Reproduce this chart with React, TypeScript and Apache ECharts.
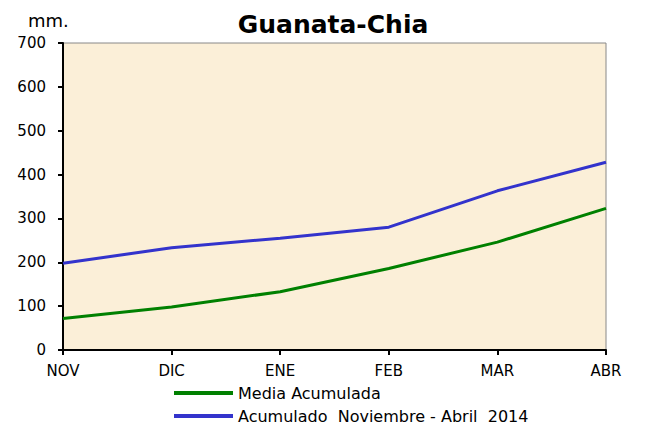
import React, { useEffect, useRef } from "react";
import * as echarts from "echarts";

const categories = ["NOV", "DIC", "ENE", "FEB", "MAR", "ABR"];
const mediaAcumulada = [72, 98, 133, 186, 246, 323];
const acumulado2014 = [198, 233, 255, 280, 363, 428];
const seriesNames = ["Media Acumulada", "Acumulado  Noviembre - Abril  2014"];

export default function App() {
  const ref = useRef<HTMLDivElement>(null);
  useEffect(() => {
    const chart = echarts.init(ref.current!, null, { renderer: "svg" });
    const font = "'DejaVu Sans', Arial, sans-serif";
    chart.setOption({
      animation: false,
      backgroundColor: "#ffffff",
      title: {
        text: "Guanata-Chia",
        left: 328,
        textAlign: "center",
        top: 7,
        textStyle: { fontFamily: font, fontSize: 25, fontWeight: "bold", color: "#000" },
      },
      graphic: [
        {
          type: "text",
          x: 28,
          y: 20,
          style: { text: "mm.", font: `18px ${font}`, fill: "#000", verticalAlign: "middle" },
        },
      ],
      legend: {
        orient: "vertical",
        left: 174,
        top: 385,
        padding: 0,
        height: 42,
        itemGap: 7,
        itemWidth: 59,
        itemHeight: 4,
        icon: "rect",
        textStyle: { fontFamily: font, fontSize: 16, color: "#000" },
        data: seriesNames,
      },
      grid: {
        left: 63,
        right: 42,
        top: 43,
        bottom: 77,
        show: true,
        backgroundColor: "#fbefd8",
        borderColor: "#888888",
        borderWidth: 1,
      },
      xAxis: {
        type: "category",
        data: categories,
        boundaryGap: false,
        axisLine: { lineStyle: { color: "#000", width: 2 } },
        axisTick: { show: true, length: 5, lineStyle: { color: "#000", width: 2 } },
        axisLabel: { fontFamily: font, fontSize: 15, color: "#000", margin: 13 },
        splitLine: { show: false },
      },
      yAxis: {
        type: "value",
        min: 0,
        max: 700,
        interval: 100,
        axisLine: { show: true, lineStyle: { color: "#000", width: 2 } },
        axisTick: { show: true, length: 5, lineStyle: { color: "#000", width: 2 } },
        axisLabel: { fontFamily: font, fontSize: 15, color: "#000", margin: 17 },
        splitLine: { show: false },
      },
      series: [
        {
          name: seriesNames[0],
          type: "line",
          data: mediaAcumulada,
          symbol: "none",
          lineStyle: { color: "#008000", width: 3 },
          itemStyle: { color: "#008000" },
        },
        {
          name: seriesNames[1],
          type: "line",
          data: acumulado2014,
          symbol: "none",
          lineStyle: { color: "#3333cc", width: 3 },
          itemStyle: { color: "#3333cc" },
        },
      ],
    });
    return () => chart.dispose();
  }, []);
  return <div ref={ref} style={{ width: 648, height: 427, position: "absolute", left: 0, top: 0 }} />;
}
